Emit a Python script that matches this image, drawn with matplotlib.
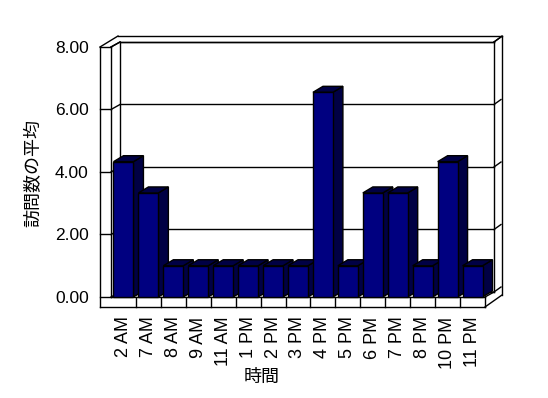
import matplotlib
matplotlib.use('Agg')
import matplotlib.pyplot as plt
import matplotlib.transforms as mtransforms
from matplotlib.patches import Polygon
from matplotlib.lines import Line2D
import numpy as np

hours = ['2 AM', '7 AM', '8 AM', '9 AM', '11 AM', '1 PM', '2 PM', '3 PM',
         '4 PM', '5 PM', '6 PM', '7 PM', '8 PM', '10 PM', '11 PM']
visits = [4.33, 3.33, 1.0, 1.0, 1.0, 1.0, 1.0, 1.0,
          6.55, 1.0, 3.33, 3.33, 1.0, 4.33, 1.0]
yticks = [0, 2, 4, 6, 8]
ytick_labels = ['0.00', '2.00', '4.00', '6.00', '8.00']

W, H = 548, 398
fig = plt.figure(figsize=(W / 100, H / 100), dpi=100)
fig.patch.set_facecolor('white')
# front plane of the 3d box, in pixels from the top left
left, right, top, bottom = 111, 485, 47, 297
ax = fig.add_axes([left / W, 1 - bottom / H, (right - left) / W, (bottom - top) / H])
ax.set_facecolor('none')
x0, x1 = -0.5, len(hours) - 0.5
y0, y1 = 0, 8
ax.set_xlim(x0, x1)
ax.set_ylim(y0, y1)
ax.set_autoscale_on(False)
for s in ax.spines.values():
    s.set_visible(False)

ident = mtransforms.IdentityTransform()


def pt(x, y, dx=0, dy=0):
    # data point plus an offset in image pixels (dy down)
    px, py = ax.transData.transform((x, y))
    return (px + dx, py - dy)


def seg(p, q, z=1):
    ax.add_line(Line2D([p[0], q[0]], [p[1], q[1]], color='black', lw=1,
                       transform=ident, clip_on=False, zorder=z))


def poly(pts, fc, z):
    ax.add_patch(Polygon(pts, closed=True, facecolor=fc, edgecolor='black', lw=1,
                         transform=ident, clip_on=False, zorder=z))


BX, BY = 9, -5      # depth of the box
# walls
seg(pt(x0, y1, -11, 0), pt(x0, y0, -11, 10))
seg(pt(x0, y1), pt(x0, y0))
seg(pt(x0, y1, -11, 0), pt(x0, y1, 7, -11))
seg(pt(x0, y1), pt(x0, y1, BX, BY))
seg(pt(x0, y1, BX, BY), pt(x1, y1, BX, BY))
seg(pt(x0, y1, 7, -11), pt(x1, y1, 17, -11))
seg(pt(x1, y1, BX, BY), pt(x1, y1, 17, -11))
seg(pt(x1, y1, BX, BY), pt(x1, y0, BX, BY))
seg(pt(x1, y1, 17, -11), pt(x1, y0, 17, -2))
seg(pt(x0, y1, BX, BY), pt(x0, y0, BX, BY))
# gridlines
for v in yticks:
    seg(pt(x0, v, -11, 0), pt(x0, v))
    seg(pt(x0, v), pt(x0, v, BX, BY))
    seg(pt(x0, v, BX, BY), pt(x1, v, BX, BY))
    seg(pt(x1, v, BX, BY), pt(x1, v, 16, -10))
# floor
seg(pt(x0, y0), pt(x1, y0))
seg(pt(x0, y0, -11, 10), pt(x1, y0, 0, 10))
for i in range(1, len(hours) + 1):
    xb = x0 + i
    seg(pt(xb, y0), pt(xb, y0, 0, 10))
seg(pt(x1, y0), pt(x1, y0, BX, BY))
seg(pt(x1, y0, 0, 10), pt(x1, y0, 17, -2))

# bars
DX, DY = 10, -6
bw = 0.8
front = '#000080'
shade = '#000044'
for i, v in enumerate(visits):
    a, b = i - bw / 2, i + bw / 2
    z = 3 + 2 * i
    poly([pt(b, 0), pt(b, v), pt(b, v, DX, DY), pt(b, 0, DX, DY)], shade, z)
    poly([pt(a, v), pt(b, v), pt(b, v, DX, DY), pt(a, v, DX, DY)], shade, z)
bars = ax.bar(range(len(hours)), visits, width=bw, color=front,
              edgecolor='black', lw=1, clip_on=False)
for i, p in enumerate(bars):
    p.set_zorder(4 + 2 * i)

ax.set_yticks(yticks, ytick_labels, fontsize=12.5, family='Liberation Sans')
ax.tick_params(axis='y', length=0, pad=16)
ax.set_xticks(range(len(hours)), hours, rotation=90, fontsize=13,
              family='Liberation Sans')
ax.tick_params(axis='x', length=0, pad=14)

fig.text(33 / W, 1 - 173 / H, '訪問数の平均', rotation=90, ha='center', va='center',
         fontsize=13, family=['Noto Sans CJK JP', 'DejaVu Sans'])
fig.text(262 / W, 1 - 377 / H, '時間', ha='center', va='center',
         fontsize=13, family=['Noto Sans CJK JP', 'DejaVu Sans'])

fig.savefig('out.png', dpi=100)
